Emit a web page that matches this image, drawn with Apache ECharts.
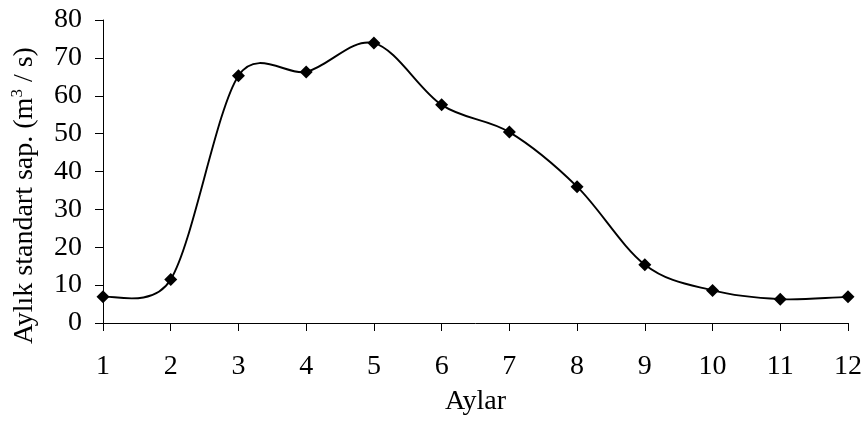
<!DOCTYPE html>
<html>
<head>
<meta charset="utf-8">
<style>
  html, body { margin: 0; padding: 0; background: #fff; }
  #chart { width: 863px; height: 421px; }
</style>
<script src="https://cdn.jsdelivr.net/npm/echarts@6/dist/echarts.min.js"></script>
</head>
<body>
<div id="chart"></div>
<script>
// Months (1..12) and monthly standard deviation of flow (m3/s)
const months = [1, 2, 3, 4, 5, 6, 7, 8, 9, 10, 11, 12];
const stdDev = [6.9, 11.5, 65.3, 66.3, 73.9, 57.6, 50.4, 36.0, 15.4, 8.6, 6.3, 6.9];
const yTicks = [0, 10, 20, 30, 40, 50, 60, 70, 80];

const font = '"Liberation Serif", "Times New Roman", serif';
const fs = 28;
const chart = echarts.init(document.getElementById('chart'));

const dist = (a, b) => Math.hypot(b[0] - a[0], b[1] - a[1]);
const same = (a, b) => a[0] === b[0] && a[1] === b[1];

// Bezier control points for the segment p1 -> p2 (spreadsheet-style smoothing:
// 1/6 tangent arms, shortened when they would exceed half the segment length)
function controls(p0, p1, p2, p3) {
  const d12 = dist(p1, p2), d02 = dist(p0, p2), d13 = dist(p1, p3);
  const v0 = [p2[0] - p0[0], p2[1] - p0[1]];
  const v1 = [p3[0] - p1[0], p3[1] - p1[1]];
  let f0, f1;
  if (d02 / 6 < d12 / 2 && d13 / 6 < d12 / 2) {
    f0 = same(p0, p1) ? 1 / 3 : 1 / 6;
    f1 = same(p2, p3) ? 1 / 3 : 1 / 6;
  } else if (d02 / 6 >= d12 / 2 && d13 / 6 >= d12 / 2) {
    f0 = d12 / 2 / d02;
    f1 = d12 / 2 / d13;
  } else if (d02 / 6 >= d12 / 2) {
    f0 = d12 / 2 / d02;
    f1 = d12 / 2 / d13 * (d13 / d02);
  } else {
    f0 = d12 / 2 / d02 * (d02 / d13);
    f1 = d12 / 2 / d13;
  }
  return [
    [p1[0] + v0[0] * f0, p1[1] + v0[1] * f0],
    [p2[0] - v1[0] * f1, p2[1] - v1[1] * f1]
  ];
}

function renderCurve(params, api) {
  const pts = months.map((m, i) => api.coord([m, stdDev[i]]));
  const n = pts.length;
  const path = ['M' + pts[0][0] + ' ' + pts[0][1]];
  for (let i = 0; i < n - 1; i++) {
    const p0 = pts[Math.max(i - 1, 0)];
    const p3 = pts[Math.min(i + 2, n - 1)];
    const c = controls(p0, pts[i], pts[i + 1], p3);
    path.push('C' + c[0][0] + ' ' + c[0][1] + ' ' + c[1][0] + ' ' + c[1][1] + ' ' +
      pts[i + 1][0] + ' ' + pts[i + 1][1]);
  }
  return {
    type: 'path',
    shape: { pathData: path.join(' ') },
    style: { fill: 'none', stroke: '#000', lineWidth: 1.9 }
  };
}

chart.setOption({
  animation: false,
  backgroundColor: '#ffffff',
  grid: {
    left: 103, right: 15, top: 20, bottom: 98,
    containLabel: false, outerBoundsMode: 'none'
  },
  xAxis: {
    type: 'value',
    min: months[0],
    max: months[months.length - 1],
    interval: 1,
    name: 'Aylar',
    nameLocation: 'middle',
    nameGap: 65,
    nameTextStyle: { fontFamily: font, fontSize: fs, color: '#000' },
    axisLine: { onZero: false, lineStyle: { color: '#000', width: 1 } },
    axisTick: { show: true, inside: false, length: 8, lineStyle: { color: '#000' } },
    axisLabel: { fontFamily: font, fontSize: fs, color: '#000', margin: 30 },
    splitLine: { show: false }
  },
  yAxis: {
    type: 'value',
    min: yTicks[0],
    max: yTicks[yTicks.length - 1],
    interval: 10,
    name: 'Aylık standart sap. (m{sup|3} / s)',
    nameLocation: 'middle',
    nameRotate: 90,
    nameGap: 63,
    nameTextStyle: {
      fontFamily: font, fontSize: fs, color: '#000',
      padding: [0, 48, 0, 0],
      rich: {
        sup: { fontFamily: font, fontSize: 17, color: '#000', verticalAlign: 'top', padding: [0, 0, 14, 0] }
      }
    },
    axisLine: { show: true, lineStyle: { color: '#000', width: 1 } },
    axisTick: { show: true, inside: false, length: 8, lineStyle: { color: '#000' } },
    axisLabel: { fontFamily: font, fontSize: fs, color: '#000', margin: 21 },
    splitLine: { show: false }
  },
  series: [
    {
      type: 'custom',
      data: [0],
      renderItem: renderCurve,
      silent: true,
      z: 1
    },
    {
      type: 'line',
      data: months.map((m, i) => [m, stdDev[i]]),
      symbol: 'diamond',
      symbolSize: 13,
      itemStyle: { color: '#000' },
      lineStyle: { width: 0, opacity: 0 },
      z: 2
    }
  ]
});
</script>
</body>
</html>
